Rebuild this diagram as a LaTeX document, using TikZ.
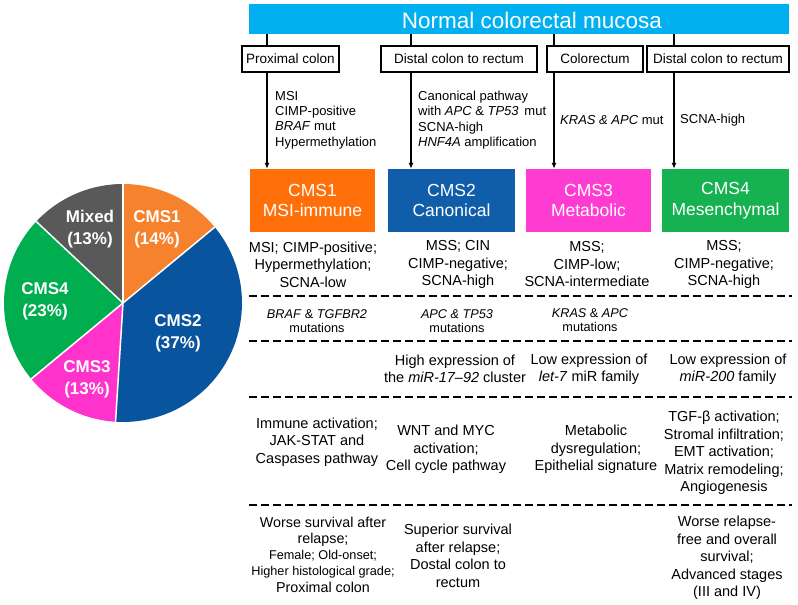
\documentclass[tikz,border=0pt]{standalone}
\usepackage{fontspec}
\setmainfont{Liberation Sans}
\usetikzlibrary{arrows.meta}

\definecolor{mucosa}{RGB}{0,176,240}
\definecolor{orangepie}{RGB}{246,130,46}
\definecolor{orangebox}{RGB}{255,112,10}
\definecolor{bluepie}{RGB}{8,84,158}
\definecolor{bluebox}{RGB}{16,94,170}
\definecolor{pinkpie}{RGB}{255,51,204}
\definecolor{pinkbox}{RGB}{255,60,210}
\definecolor{greenpie}{RGB}{0,174,80}
\definecolor{greenbox}{RGB}{22,178,82}
\definecolor{mixedgray}{RGB}{89,89,89}

\begin{document}
\begin{tikzpicture}[x=1pt,y=-1pt,
  site/.style={draw,line width=2.2pt,fill=white,inner sep=0pt,minimum height=26pt,font=\fontsize{13.5}{16}\selectfont},
  cms/.style={inner sep=0pt,minimum height=63pt,text=white,align=center,font=\fontsize{17.5}{20.5}\selectfont},
  note/.style={anchor=west,align=left,inner sep=0pt,font=\fontsize{13}{15.3}\selectfont},
  feat/.style={align=center,inner sep=0pt,font=\fontsize{14.5}{17.5}\selectfont},
  small/.style={align=center,inner sep=0pt,font=\fontsize{12.7}{14.5}\selectfont},
  pielab/.style={align=center,inner sep=0pt,text=white,font=\bfseries\fontsize{17}{22}\selectfont},
  link/.style={line width=1.8pt},
  rowline/.style={line width=1.8pt,dash pattern=on 8pt off 4pt}]
  \useasboundingbox (0,0) rectangle (798,605);

  %円グラフ
  \begin{scope}[shift={(123,303)},yscale=-1]
    \fill[orangepie] (0,0) -- (90:119) arc[start angle=90,end angle=39.6,radius=119] -- cycle;
    \fill[bluepie] (0,0) -- (39.6:119) arc[start angle=39.6,end angle=-93.6,radius=119] -- cycle;
    \fill[pinkpie] (0,0) -- (-93.6:119) arc[start angle=-93.6,end angle=-140.4,radius=119] -- cycle;
    \fill[greenpie] (0,0) -- (-140.4:119) arc[start angle=-140.4,end angle=-223.2,radius=119] -- cycle;
    \fill[mixedgray] (0,0) -- (136.8:119) arc[start angle=136.8,end angle=90,radius=119] -- cycle;
    \draw[white,line width=1.5pt] (0,0) -- (90:119);
    \draw[white,line width=1.5pt] (0,0) -- (39.6:119);
    \draw[white,line width=1.5pt] (0,0) -- (-93.6:119);
    \draw[white,line width=1.5pt] (0,0) -- (-140.4:119);
    \draw[white,line width=1.5pt] (0,0) -- (136.8:119);
  \end{scope}
  \node[pielab] (pmixed) at (90,229) {Mixed\\(13\%)};
  \node[pielab] (pcms1) at (157,229) {CMS1\\(14\%)};
  \node[pielab] (pcms4) at (45,301) {CMS4\\(23\%)};
  \node[pielab] (pcms2) at (178,333.5) {CMS2\\(37\%)};
  \node[pielab] (pcms3) at (87,379) {CMS3\\(13\%)};

  %見出し
  \node[fill=mucosa,minimum width=540pt,minimum height=30pt,inner sep=0pt,anchor=north west] (bar) at (249,4) {};
  \node[text=white,inner sep=0pt,font=\fontsize{22.5}{26}\selectfont] (title) at (532,20) {Normal colorectal mucosa};

  %部位
  \node[site,minimum width=97pt] (site1) at (290.5,59) {Proximal colon};
  \node[site,minimum width=156pt] (site2) at (459,59) {Distal colon to rectum};
  \node[site,minimum width=96pt] (site3) at (595,59) {Colorectum};
  \node[site,minimum width=142pt] (site4) at (718,59) {Distal colon to rectum};

  %CMS
  \node[cms,fill=orangebox,minimum width=125pt] (cms1) at (312.5,200.5) {CMS1\\MSI-immune};
  \node[cms,fill=bluebox,minimum width=127pt] (cms2) at (451.5,200.5) {CMS2\\Canonical};
  \node[cms,fill=pinkbox,minimum width=125pt] (cms3) at (588.5,200.5) {CMS3\\Metabolic};
  \node[cms,fill=greenbox,minimum width=127pt] (cms4) at (725.5,200.5) {CMS4\\Mesenchymal};

  %線
  \coordinate (x1) at (267,0);
  \coordinate (x2) at (411,0);
  \coordinate (x3) at (554,0);
  \coordinate (x4) at (674,0);
  \draw[link] (bar.south -| x1) -- (site1.north -| x1);
  \draw[link] (bar.south -| x2) -- (site2.north -| x2);
  \draw[link] (bar.south -| x3) -- (site3.north -| x3);
  \draw[link] (bar.south -| x4) -- (site4.north -| x4);
  \draw[link,-{Latex[length=6pt,width=5pt]}] (site1.south -| x1) -- (cms1.north -| x1);
  \draw[link,-{Latex[length=6pt,width=5pt]}] (site2.south -| x2) -- (cms2.north -| x2);
  \draw[link,-{Latex[length=6pt,width=5pt]}] (site3.south -| x3) -- (cms3.north -| x3);
  \draw[link,-{Latex[length=6pt,width=5pt]}] (site4.south -| x4) -- (cms4.north -| x4);

  %経路
  \node[note] (note1) at (275,120) {MSI\\CIMP-positive\\\textit{BRAF} mut\\Hypermethylation};
  \node[note] (note2) at (418,120) {Canonical pathway\\with \textit{APC} \& \textit{TP53}\, mut\\SCNA-high\\\textit{HNF4A} amplification};
  \node[note] (note3) at (560,120) {\textit{KRAS \& APC} mut};
  \node[note] (note4) at (680,120) {SCNA-high};

  %ゲノム
  \node[feat] (gen1) at (313,264.5) {MSI; CIMP-positive;\\Hypermethylation;\\SCNA-low};
  \node[feat] (gen2) at (458,264.5) {MSS; CIN\\CIMP-negative;\\SCNA-high};
  \node[feat] (gen3) at (587,264.5) {MSS;\\CIMP-low;\\SCNA-intermediate};
  \node[feat] (gen4) at (724,264.5) {MSS;\\CIMP-negative;\\SCNA-high};

  %区切り
  \draw[rowline] (249,296) -- (792,296);
  \draw[rowline] (249,341) -- (792,341);
  \draw[rowline] (249,397) -- (792,397);
  \draw[rowline] (249,505) -- (792,505);

  %変異
  \node[small] (mut1) at (317,321) {\textit{BRAF} \& \textit{TGFBR2}\\mutations};
  \node[small] (mut2) at (457,321) {\textit{APC \& TP53}\\mutations};
  \node[small] (mut3) at (590,320) {\textit{KRAS} \& \textit{APC}\\mutations};

  %miRNA
  \node[feat] (mir2) at (455,369) {High expression of\\the \textit{miR-17–92} cluster};
  \node[feat] (mir3) at (589,369) {Low expression of\\\textit{let-7} miR family};
  \node[feat] (mir4) at (728,369) {Low expression of\\\textit{miR-200} family};

  %シグナル
  \node[feat] (path1) at (317,442) {Immune activation;\\JAK-STAT and\\Caspases pathway};
  \node[feat] (path2) at (446,449.5) {WNT and MYC\\activation;\\Cell cycle pathway};
  \node[feat] (path3) at (596,449.5) {Metabolic\\dysregulation;\\Epithelial signature};
  \node[feat] (path4) at (724,453) {TGF-β activation;\\Stromal infiltration;\\EMT activation;\\Matrix remodeling;\\Angiogenesis};

  %予後
  \node[feat,font=\fontsize{14.3}{16.3}\selectfont] (out1) at (323,554.5) {Worse survival after\\relapse;\\{\fontsize{12.7}{15}\selectfont Female; Old-onset;}\\{\fontsize{12.7}{15}\selectfont Higher histological grade;}\\Proximal colon};
  \node[feat] (out2) at (458,556) {Superior survival\\after relapse;\\Dostal colon to\\rectum};
  \node[feat] (out4) at (727,558) {Worse relapse-\\free and overall\\survival;\\Advanced stages\\(III and IV)};
\end{tikzpicture}
\end{document}
